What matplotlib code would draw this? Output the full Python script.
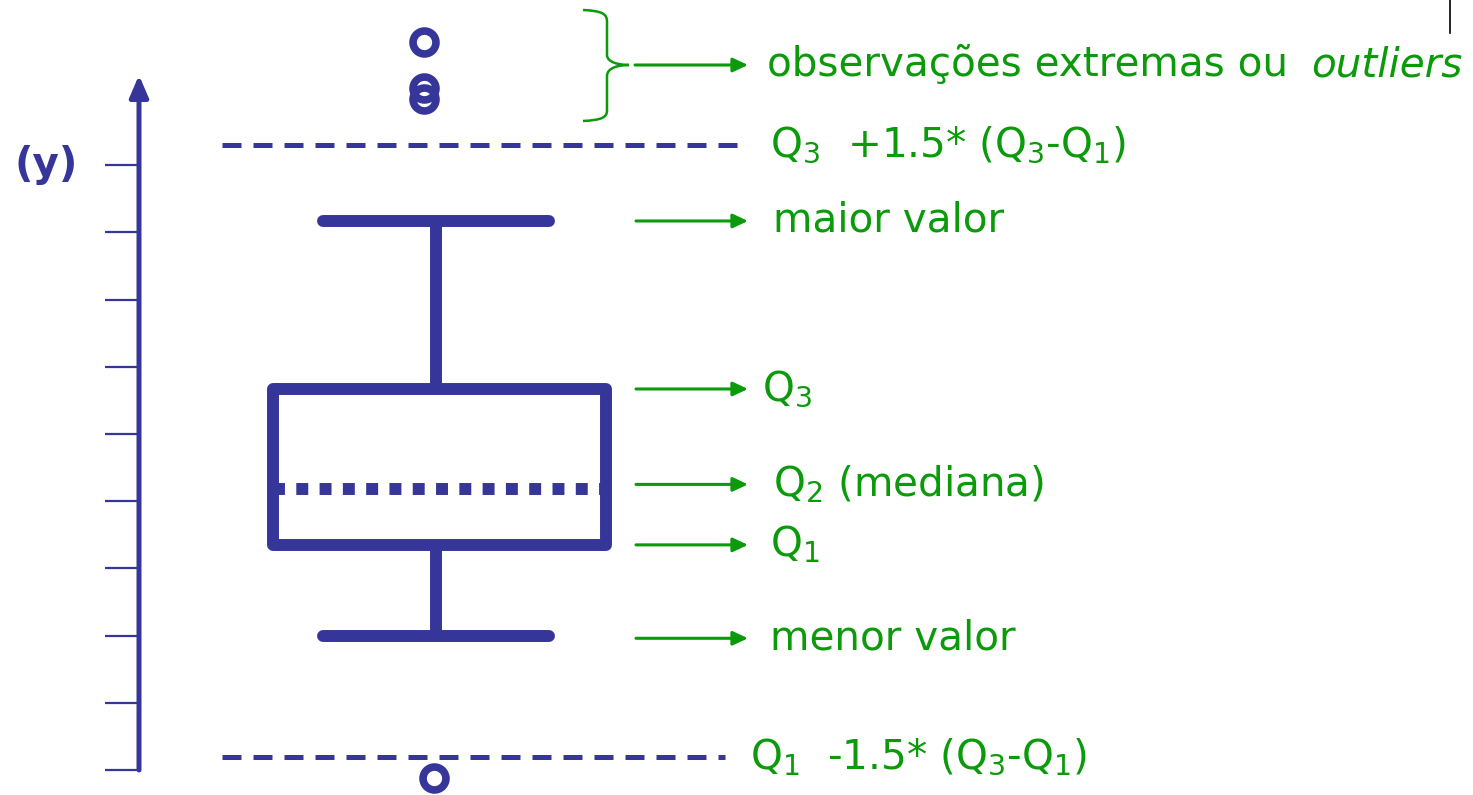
import matplotlib
matplotlib.use("Agg")
import matplotlib.pyplot as plt
from matplotlib.patches import Rectangle, PathPatch
from matplotlib.path import Path

# ---- data (values on the schematic y scale) ----
tick_values = [0, 1, 2, 3, 4, 5, 6, 7, 8, 9]
lower_whisker = 2.0
q1 = 3.35
median = 4.18
q3 = 5.67
upper_whisker = 8.17
upper_fence = 9.30
lower_fence = 0.19
outliers_high = [10.83, 10.15, 9.985]
outliers_high_x = [424, 424, 424]
outliers_low = [-0.12]
outliers_low_x = [434]
axis_top = 10.34
y_label = "(y)"
label_texts = ["maior valor", "Q$_3$", "Q$_2$ (mediana)", "Q$_1$", "menor valor"]
label_values = [upper_whisker, q3, median + 0.07, q1, lower_whisker - 0.04]
fence_texts = ["Q$_3$  +1.5* (Q$_3$-Q$_1$)", "Q$_1$  -1.5* (Q$_3$-Q$_1$)"]
outlier_text = ["observações extremas ou", "outliers"]

BLUE = "#36369A"
GREEN = "#0A9A0A"
FS = 29.2

plt.rcParams["font.family"] = ["DejaVu Sans"]
plt.rcParams["mathtext.fontset"] = "dejavusans"

fig = plt.figure(figsize=(14.73, 7.95), dpi=100)
ax = fig.add_axes([0, 0, 1, 1])
ax.set_xlim(0, 1473)
ax.set_ylim(-25 / 67.2, 770 / 67.2)
ax.axis("off")

# y axis with arrow
ax.annotate("", xy=(139, axis_top), xytext=(139, tick_values[0]),
            arrowprops=dict(arrowstyle="-|>,head_length=0.65,head_width=0.28",
                            mutation_scale=20, lw=3.6, color=BLUE,
                            shrinkA=0, shrinkB=0))
for t in tick_values:
    ax.plot([105, 139], [t, t], color=BLUE, lw=1.6, solid_capstyle="butt")
ax.text(46, tick_values[-1], y_label, color=BLUE, fontsize=FS, fontweight="bold",
        ha="center", va="center")

# fences
ax.plot([222, 740], [upper_fence, upper_fence], color=BLUE, lw=3.6,
        linestyle=(0, (3.8, 2.4)), dash_capstyle="butt")
ax.plot([222, 725], [lower_fence, lower_fence], color=BLUE, lw=3.6,
        linestyle=(0, (3.8, 2.4)), dash_capstyle="butt")

# whiskers
ax.plot([436, 436], [q3, upper_whisker], color=BLUE, lw=8.6, solid_capstyle="butt")
ax.plot([436, 436], [q1, lower_whisker], color=BLUE, lw=8.6, solid_capstyle="butt")
ax.plot([323, 549], [upper_whisker, upper_whisker], color=BLUE, lw=8.6,
        solid_capstyle="round")
ax.plot([323, 549], [lower_whisker, lower_whisker], color=BLUE, lw=8.6,
        solid_capstyle="round")

# box
ax.add_patch(Rectangle((273, q1), 606 - 273, q3 - q1, fill=False,
                       edgecolor=BLUE, lw=8.6, joinstyle="round"))
ax.plot([273, 606], [median, median], color=BLUE, lw=8.6,
        linestyle=(0, (1.0, 0.95)), dash_capstyle="butt")

# outliers
ax.plot(outliers_high_x, outliers_high, "o", ms=16.5, mfc="none", mec=BLUE, mew=5.5)
ax.plot(outliers_low_x, outliers_low, "o", ms=16.5, mfc="none", mec=BLUE, mew=5.5)

# brace
def py(p):
    return (770 - p) / 67.2
verts = [(583, py(10)), (603, py(11)), (607, py(14)), (607, py(22)),
         (607, py(55)),
         (607, py(62)), (618, py(65)), (629, py(65)),
         (618, py(65)), (607, py(68)), (607, py(76)),
         (607, py(110)),
         (607, py(117)), (603, py(120)), (583, py(121))]
codes = [Path.MOVETO, Path.CURVE4, Path.CURVE4, Path.CURVE4,
         Path.LINETO,
         Path.CURVE4, Path.CURVE4, Path.CURVE4,
         Path.CURVE4, Path.CURVE4, Path.CURVE4,
         Path.LINETO,
         Path.CURVE4, Path.CURVE4, Path.CURVE4]
ax.add_patch(PathPatch(Path(verts, codes), fill=False, edgecolor=GREEN, lw=1.8))

arrow_kw = dict(arrowstyle="-|>,head_length=0.9,head_width=0.42", mutation_scale=10,
                lw=2.2, color=GREEN, shrinkA=0, shrinkB=0)
brace_y = py(65)
ax.annotate("", xy=(748, brace_y), xytext=(635, brace_y), arrowprops=arrow_kw)
ax.text(767, brace_y, outlier_text[0], color=GREEN, fontsize=FS, ha="left", va="center")
ax.text(1463, brace_y, outlier_text[1], color=GREEN, fontsize=FS, ha="right",
        va="center", style="italic")

label_x = [773, 762, 773, 770, 770]
for txt, val, lx in zip(label_texts, label_values, label_x):
    ax.annotate("", xy=(748, val), xytext=(636, val), arrowprops=arrow_kw)
    ax.text(lx, val, txt, color=GREEN, fontsize=FS, ha="left", va="center")

ax.text(770, upper_fence, fence_texts[0], color=GREEN, fontsize=FS, ha="left", va="center")
ax.text(750, lower_fence, fence_texts[1], color=GREEN, fontsize=FS, ha="left", va="center")

# small mark top right
ax.plot([1450, 1450], [py(0), py(33)], color="black", lw=1.2)

fig.savefig("out.png", dpi=100)
